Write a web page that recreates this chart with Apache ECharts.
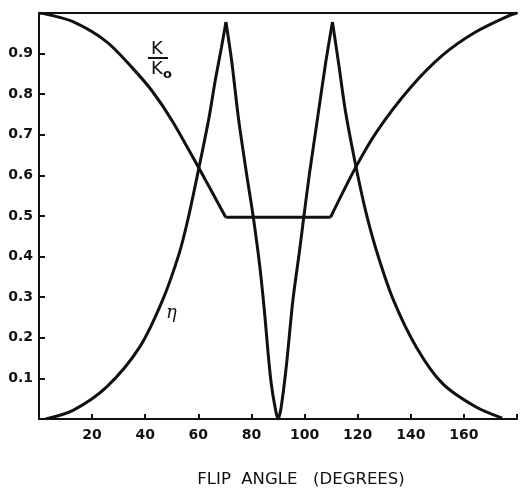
<!DOCTYPE html>
<html><head><meta charset="utf-8">
<script src="https://cdn.jsdelivr.net/npm/echarts@6/dist/echarts.min.js"></script>
<style>html,body{margin:0;padding:0;background:#fff}#c{width:520px;height:492px}</style>
</head><body><div id="c"></div>
<script>
// x tick labels / y tick labels
const xTicks = [20, 40, 60, 80, 100, 120, 140, 160];
const yTicks = [0.1, 0.2, 0.3, 0.4, 0.5, 0.6, 0.7, 0.8, 0.9];

// K/K0 curve (flip angle in degrees, ratio)
const kLeftAngle  = [0, 3, 13, 25.5, 35.4, 42.8, 50.3, 60.2, 70.3];
const kLeftValue  = [1.0, 0.997, 0.978, 0.929, 0.863, 0.806, 0.733, 0.618, 0.497];
const kFlatAngle  = [70.3, 109.8];
const kFlatValue  = [0.497, 0.497];
const kRightAngle = [109.8, 119.1, 127.2, 139.6, 152, 164.4, 176.8, 180];
const kRightValue = [0.497, 0.618, 0.708, 0.814, 0.896, 0.953, 0.993, 1.0];

// eta curve
const etaRiseAngle = [2.5, 13, 25.5, 37.9, 46.5, 52.8, 56.2, 60.2, 63.9, 66.4, 68.7, 70.4];
const etaRiseValue = [0, 0.022, 0.079, 0.177, 0.292, 0.408, 0.495, 0.618, 0.738, 0.835, 0.915, 0.978];
const etaVAngle = [70.4, 72.6, 75.1, 78.2, 80.7, 83.2, 85, 86.3, 87.5, 89.0, 90, 91.1, 93.1, 95.6, 98.1, 99.7, 101.8, 104.9, 108, 110.5];
const etaVValue = [0.978, 0.880, 0.741, 0.602, 0.497, 0.373, 0.258, 0.160, 0.085, 0.025, 0, 0.025, 0.128, 0.292, 0.414, 0.497, 0.602, 0.741, 0.880, 0.978];
const etaFallAngle = [110.5, 113, 115.4, 119.1, 122.9, 127.2, 133.4, 142.1, 152, 164.4, 174.4];
const etaFallValue = [0.978, 0.868, 0.758, 0.630, 0.515, 0.412, 0.294, 0.177, 0.087, 0.030, 0.002];

const pairs = (a, b) => a.map((x, i) => [x, b[i]]);
const lineStyle = {color: '#111', width: 3};
function seg(a, b, smooth) {
  return {type: 'line', data: pairs(a, b), smooth: smooth, showSymbol: false, symbol: 'none',
          lineStyle: lineStyle, silent: true, animation: false, clip: true};
}
const font = {fontFamily: 'DejaVu Sans', fontWeight: 'bold', fontSize: 14, color: '#111'};

const chart = echarts.init(document.getElementById('c'), null, {renderer: 'canvas'});
chart.setOption({
  animation: false,
  backgroundColor: '#fff',
  grid: {left: 39, top: 13, width: 484, height: 406, containLabel: false},
  xAxis: [{
    type: 'value', min: 0, max: 180, interval: 20, position: 'bottom',
    axisLine: {show: true, lineStyle: {color: '#111', width: 2}},
    axisTick: {show: true, inside: true, length: 5, lineStyle: {color: '#111', width: 2}},
    splitLine: {show: false},
    axisLabel: Object.assign({margin: 9, formatter: v => xTicks.includes(v) ? String(v) : ''}, font)
  }, {
    type: 'value', min: 0, max: 180, position: 'top',
    axisLine: {show: true, onZero: false, lineStyle: {color: '#111', width: 2}},
    axisTick: {show: false}, axisLabel: {show: false}, splitLine: {show: false}
  }],
  yAxis: {
    type: 'value', min: 0, max: 1, interval: 0.1,
    axisLine: {show: true, lineStyle: {color: '#111', width: 2}},
    axisTick: {show: true, inside: true, length: 6, lineStyle: {color: '#111', width: 2}},
    splitLine: {show: false},
    axisLabel: Object.assign({margin: 6, formatter: v => {
      const r = Math.round(v * 10) / 10;
      return yTicks.includes(r) ? r.toFixed(1) : '';
    }}, font)
  },
  series: [
    seg(kLeftAngle, kLeftValue, 0.3),
    seg(kFlatAngle, kFlatValue, false),
    seg(kRightAngle, kRightValue, 0.3),
    seg(etaRiseAngle, etaRiseValue, 0.3),
    seg(etaVAngle, etaVValue, 0.25),
    seg(etaFallAngle, etaFallValue, 0.3)
  ],
  graphic: [
    {type: 'text', left: 151, top: 40, style: {text: 'K', font: '18px "DejaVu Sans"', fill: '#111'}},
    {type: 'line', shape: {x1: 148, y1: 58, x2: 168, y2: 58}, style: {stroke: '#111', lineWidth: 2}},
    {type: 'text', left: 151, top: 60, style: {text: 'K', font: '18px "DejaVu Sans"', fill: '#111'}},
    {type: 'text', left: 163, top: 68, style: {text: 'o', font: 'bold 13px "DejaVu Sans"', fill: '#111'}},
    {type: 'text', left: 166, top: 304, style: {text: 'η', font: 'italic 18px "DejaVu Serif"', fill: '#111'}},
    {type: 'text', x: 301, y: 480, style: {text: 'FLIP  ANGLE   (DEGREES)', font: '16.5px "DejaVu Sans"', fill: '#111', align: 'center', verticalAlign: 'middle'}}
  ]
});
</script></body></html>
